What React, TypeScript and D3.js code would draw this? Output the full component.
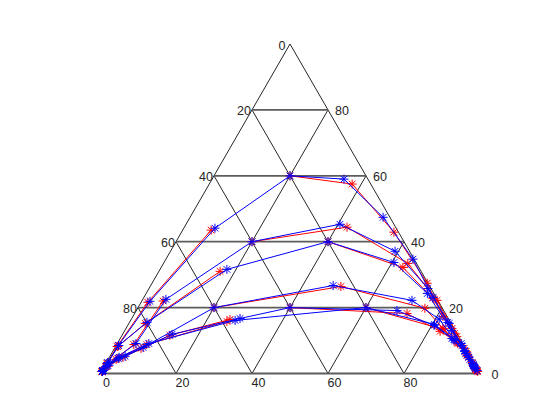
import React from 'react';
import * as d3 from 'd3';

// ternary values are [top %, right %]; the left component is the rest
const tickVals = [0, 20, 40, 60, 80];
const gridVals = [20, 40, 60, 80];

const feedT = [60, 40, 40, 20, 20, 20];
const feedR = [20, 20, 40, 20, 40, 60];

const blueLeft = [
  [[0.9, 0.3], [3.3, 0.4], [8.5, 0.6], [21.9, 2.2], [44.1, 8.2]],
  [[0.9, 0.3], [3.3, 1.0], [9.1, 4.9], [22.5, 6.1]],
  [[0.9, 0.4], [3.3, 0.3], [8.5, 0.7], [15.5, 4.6], [31.6, 17.6]],
  [[0.6, 0.3], [2.4, 0.6], [4.6, 2.5], [7.9, 7.4]],
  [[0.9, 0.3], [2.4, 0.9], [5.2, 4.0], [11.9, 13.0], [16.7, 28.5]],
  [[0.6, 0.3], [2.1, 0.5], [4.9, 2.6], [9.1, 8.3], [16.1, 27.5]],
];

const redLeft = [
  [[1.0, 0.2], [3.0, 0.3], [8.2, 0.4], [21.6, 1.8], [43.5, 7.5]],
  [[0.6, 0.3], [3.0, 0.9], [8.8, 4.5], [22.0, 5.6]],
  [[0.9, 0.3], [3.0, 0.4], [8.2, 0.6], [15.2, 4.3], [31.0, 16.1]],
  [[0.6, 0.2], [2.1, 0.5], [4.3, 2.1], [7.6, 7.0]],
  [[0.6, 0.3], [2.1, 0.8], [4.9, 3.6], [11.6, 12.6], [16.4, 26.0]],
  [[0.6, 0.2], [2.0, 0.5], [4.6, 2.4], [8.8, 7.9], [15.8, 25.5]],
];

const blueRight = [
  [[59.0, 34.7], [47.4, 50.8], [34.7, 65.0], [23.1, 76.1], [15.2, 84.3], [8.5, 91.0], [4.9, 94.6], [1.8, 97.7]],
  [[45.3, 40.5], [37.1, 59.1], [25.8, 73.4], [15.5, 83.8], [9.1, 90.5], [4.3, 95.2], [1.5, 98.0]],
  [[33.7, 60.5], [24.3, 74.0], [13.1, 85.9], [7.0, 92.5], [3.0, 96.5], [0.9, 98.8]],
  [[26.7, 48.0], [22.2, 71.0], [16.5, 81.0], [10.0, 88.4], [5.5, 93.9], [2.1, 97.4]],
  [[19.1, 68.6], [14.6, 80.6], [10.6, 87.3], [6.7, 92.6], [2.7, 96.9]],
  [[14.9, 80.6], [10.3, 88.0], [6.1, 93.2], [2.4, 97.1]],
];

const redRight = [
  [[57.5, 37.6], [42.9, 55.9], [27.4, 72.4], [17.3, 81.6], [11.2, 88.3], [6.7, 93.0], [3.0, 96.6], [0.9, 98.6]],
  [[44.4, 42.8], [33.4, 64.3], [22.2, 77.6], [13.7, 85.8], [7.6, 92.0], [3.3, 96.3], [0.9, 98.7]],
  [[32.2, 63.6], [22.8, 76.2], [12.2, 87.2], [6.1, 93.3], [2.4, 97.0], [0.6, 99.1]],
  [[26.4, 50.2], [19.8, 75.6], [13.7, 83.4], [9.1, 89.6], [4.9, 94.6], [1.2, 98.4]],
  [[18.2, 71.7], [12.8, 83.1], [9.4, 89.5], [5.2, 94.3], [1.2, 98.3]],
  [[13.4, 83.6], [9.6, 89.0], [5.6, 93.8], [1.5, 98.0]],
];

const W = 560;
const H = 420;

const xs = d3.scaleLinear().domain([0, 100]).range([100, 480]);
const ys = d3.scaleLinear().domain([0, 100]).range([373.5, 44]);

// [top, right] -> pixel
const px = (p: number[]) => [xs(p[1] + p[0] / 2), ys(p[0])];

const line = d3
  .line<number[]>()
  .x((p) => px(p)[0])
  .y((p) => px(p)[1]);

const Star = ({ p, color }: { p: number[]; color: string }) => {
  const [x, y] = px(p);
  const r = 4.5;
  const d = 3.3;
  return (
    <path
      d={`M${x - r},${y}H${x + r}M${x},${y - r}V${y + r}M${x - d},${y - d}L${x + d},${y + d}M${x - d},${y + d}L${x + d},${y - d}`}
      stroke={color}
      strokeWidth={1}
      fill="none"
    />
  );
};

const Series = ({ paths, color }: { paths: number[][][]; color: string }) => (
  <g>
    {paths.map((pts, i) => (
      <g key={i}>
        <path d={line(pts) || ''} fill="none" stroke={color} strokeWidth={1} />
        {pts.map((p, j) => (
          <Star key={j} p={p} color={color} />
        ))}
      </g>
    ))}
  </g>
);

const App = () => {
  const feeds = feedT.map((t, i) => [t, feedR[i]]);
  const bluePaths = feeds.map((f, i) => [...blueLeft[i], f, ...blueRight[i]]);
  const redPaths = [...redLeft, ...feeds.map((f, i) => [f, ...redRight[i]])];

  const font = { fontFamily: 'Liberation Sans, Arial, sans-serif', fontSize: 12.5 };

  return (
    <svg
      width={W}
      height={H}
      style={{ position: 'absolute', left: 0, top: 0, background: '#fff' }}
    >
      <g>
        {/* lines of constant right component */}
        {gridVals.map((k) => (
          <line key={'r' + k} x1={px([0, k])[0]} y1={px([0, k])[1]} x2={px([100 - k, k])[0]} y2={px([100 - k, k])[1]} stroke="#262626" strokeWidth={1} />
        ))}
        {/* lines of constant left component */}
        {gridVals.map((k) => (
          <line key={'l' + k} x1={px([0, 100 - k])[0]} y1={px([0, 100 - k])[1]} x2={px([100 - k, 0])[0]} y2={px([100 - k, 0])[1]} stroke="#262626" strokeWidth={1} />
        ))}
        {/* sides */}
        <line x1={px([0, 0])[0]} y1={px([0, 0])[1]} x2={px([100, 0])[0]} y2={px([100, 0])[1]} stroke="#262626" strokeWidth={1} />
        <line x1={px([0, 100])[0]} y1={px([0, 100])[1]} x2={px([100, 0])[0]} y2={px([100, 0])[1]} stroke="#262626" strokeWidth={1} />
        {/* horizontal lines */}
        {[0, ...gridVals].map((k) => (
          <line key={'t' + k} x1={px([k, 0])[0]} y1={px([k, 0])[1]} x2={px([k, 100 - k])[0]} y2={px([k, 100 - k])[1]} stroke="#5c5c5c" strokeWidth={1.8} />
        ))}
      </g>

      <g style={font} fill="#262626">
        {/* bottom axis: right component */}
        {tickVals.map((k) => (
          <text key={'b' + k} x={px([0, k])[0] + 6.5} y={383} textAnchor="middle" dominantBaseline="central">
            {k}
          </text>
        ))}
        {/* left side: left component */}
        {[0, ...gridVals].map((k) => (
          <text key={'ls' + k} x={px([100 - k, 0])[0] - 8} y={px([100 - k, 0])[1] + 1.5} textAnchor="middle" dominantBaseline="central">
            {k}
          </text>
        ))}
        {/* right side: top component */}
        {tickVals.map((k) => (
          <text key={'rs' + k} x={px([k, 100 - k])[0] + (k === 0 ? 15 : 14)} y={px([k, 100 - k])[1] + 1.5} textAnchor="middle" dominantBaseline="central">
            {k}
          </text>
        ))}
      </g>

      <Series paths={redPaths} color="#ff0000" />
      <Series paths={bluePaths} color="#0000ff" />
    </svg>
  );
};

export default App;
